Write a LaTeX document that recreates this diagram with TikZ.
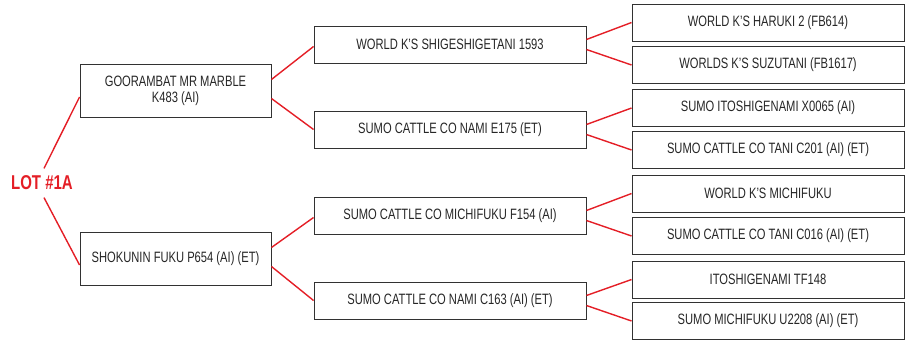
\documentclass[tikz,border=0pt]{standalone}
\usepackage{fontspec}
\setmainfont{Liberation Sans}[FakeStretch=0.745]
\usetikzlibrary{calc}
\definecolor{lred}{RGB}{228,30,38}
\definecolor{bord}{RGB}{50,50,50}
\tikzset{
  box/.style={draw=bord, line width=0.9pt, fill=white, inner sep=0pt, align=center,
    font=\fontsize{15}{16}\selectfont, text=black!85},
  b1/.style={box, minimum width=191pt, minimum height=53pt},
  b2/.style={box, minimum width=272pt, minimum height=37pt},
  b3/.style={box, minimum width=272pt, minimum height=37pt},
  link/.style={draw=lred, line width=1.4pt},
}
\begin{document}
\begin{tikzpicture}[x=1pt,y=-1pt]
\useasboundingbox (0,0) rectangle (912,340);
\node[font=\fontsize{20}{20}\selectfont\bfseries, text=lred] (lot) at (42,183) {\addfontfeature{FakeStretch=0.75}LOT \#1A};
\node[b1] (a) at (175.5,90.5) {GOORAMBAT MR MARBLE\\K483 (AI)};
\node[b1] (b) at (175.5,258.5) {SHOKUNIN FUKU P654 (AI) (ET)};
\node[b2] (aa) at (450,44.5) {WORLD K'S SHIGESHIGETANI 1593};
\node[b2] (ab) at (450,129.5) {SUMO CATTLE CO NAMI E175 (ET)};
\node[b2] (ba) at (450,215.5) {SUMO CATTLE CO MICHIFUKU F154 (AI)};
\node[b2] (bb) at (450,300.5) {SUMO CATTLE CO NAMI C163 (AI) (ET)};
\node[b3] (aaa) at (768,22.5) {WORLD K'S HARUKI 2 (FB614)};
\node[b3] (aab) at (768,65) {WORLDS K'S SUZUTANI (FB1617)};
\node[b3] (aba) at (768,108) {SUMO ITOSHIGENAMI X0065 (AI)};
\node[b3] (abb) at (768,150) {SUMO CATTLE CO TANI C201 (AI) (ET)};
\node[b3] (baa) at (768,193.5) {WORLD K'S MICHIFUKU};
\node[b3] (bab) at (768,236) {SUMO CATTLE CO TANI C016 (AI) (ET)};
\node[b3] (bba) at (768,279.5) {ITOSHIGENAMI TF148};
\node[b3] (bbb) at (768,321) {SUMO MICHIFUKU U2208 (AI) (ET)};
% connectors
\draw[link] ($(lot.north)+(2,-4)$) -- ($(a.west)+(0,6.5)$);
\draw[link] ($(lot.south)+(2,4)$) -- ($(b.west)+(0,6.5)$);
\foreach \p/\u/\l in {a/aa/ab, b/ba/bb}{
  \draw[link] ($(\p.east)+(0,-11)$) -- ($(\u.west)+(0,2)$);
  \draw[link] ($(\p.east)+(0,8)$) -- ($(\l.west)+(0,0)$);
}
\foreach \p in {aa,ab,ba,bb}{
  \draw[link] ($(\p.east)+(0,-5)$) -- (\p a.west);
  \draw[link] ($(\p.east)+(0,5)$) -- (\p b.west);
}
\end{tikzpicture}
\end{document}
